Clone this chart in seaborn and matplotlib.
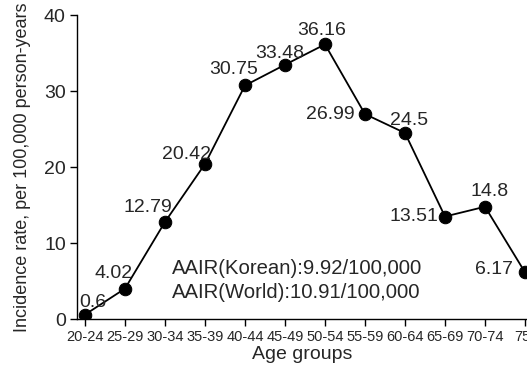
import matplotlib
matplotlib.use("Agg")
import matplotlib.pyplot as plt
import seaborn as sns
import pandas as pd

age_groups = ["20-24", "25-29", "30-34", "35-39", "40-44", "45-49",
              "50-54", "55-59", "60-64", "65-69", "70-74", "75-"]
rates = [0.6, 4.02, 12.79, 20.42, 30.75, 33.48, 36.16, 26.99, 24.5, 13.51, 14.8, 6.17]
rate_labels = ["0.6", "4.02", "12.79", "20.42", "30.75", "33.48", "36.16",
               "26.99", "24.5", "13.51", "14.8", "6.17"]
aair_texts = ["AAIR(Korean):9.92/100,000", "AAIR(World):10.91/100,000"]

sns.set_theme(style="ticks")
plt.rcParams['font.family'] = ['Liberation Sans', 'DejaVu Sans']

df = pd.DataFrame({"x": range(len(age_groups)), "rate": rates})

fig = plt.figure(figsize=(5.27, 3.8), dpi=100)
ax = fig.add_axes([0.146, 0.16, 0.854, 0.8])
sns.lineplot(data=df, x="x", y="rate", ax=ax, color="black", linewidth=1.3,
             marker="o", markersize=9, markeredgecolor="black", markerfacecolor="black")

ax.set_xlim(-0.2, 11.05)
ax.set_ylim(0, 40)
ax.set_yticks([0, 10, 20, 30, 40])
ax.set_xticks(range(len(age_groups)))
ax.set_xticklabels(age_groups, fontsize=10.5)
ax.tick_params(axis='y', labelsize=14, length=5, width=1, color='black', pad=3)
ax.tick_params(axis='x', length=5, width=1, color='black', pad=3)
for s in ['top', 'right']:
    ax.spines[s].set_visible(False)
for s in ['left', 'bottom']:
    ax.spines[s].set_color('black')
    ax.spines[s].set_linewidth(1)

ax.set_xlabel("Age groups", fontsize=14, labelpad=1)
ax.set_ylabel("Incidence rate, per 100,000 person-years", fontsize=13, labelpad=9)

# label offsets in pixels (dx, dy), alignment
px = 0.72
offsets = [(-6, 4, 'left', 'bottom'), (8, 7, 'right', 'bottom'), (7, 6, 'right', 'bottom'),
           (6, 1, 'right', 'bottom'), (13, 7, 'right', 'bottom'), (-5, 3, 'center', 'bottom'),
           (-3, 5, 'center', 'bottom'), (-10, 0, 'right', 'center'), (4, 4, 'center', 'bottom'),
           (-7, 0, 'right', 'center'), (5, 7, 'center', 'bottom'), (-12, 3, 'right', 'center')]
for i, (v, lab) in enumerate(zip(rates, rate_labels)):
    dx, dy, ha, va = offsets[i]
    ax.annotate(lab, (i, v), xytext=(dx * px, dy * px), textcoords='offset points',
                ha=ha, va=va, fontsize=14)

ax.text(2.17, 6.7, aair_texts[0], fontsize=14.6, ha='left', va='center')
ax.text(2.17, 3.55, aair_texts[1], fontsize=14.6, ha='left', va='center')

fig.savefig("out.png", dpi=100)
